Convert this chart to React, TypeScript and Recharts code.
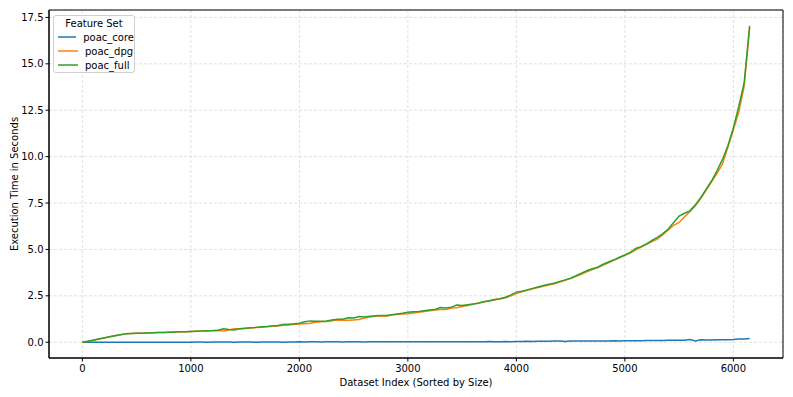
import React from 'react';
import { LineChart, Line, XAxis, YAxis, CartesianGrid, ReferenceArea } from 'recharts';

// dataset index (sorted by size), sampled every 50
const indices = [
  0, 50, 100, 150, 200, 250, 300, 350, 400, 450, 500, 550, 600, 650, 700, 750, 800, 850, 900, 950,
  1000, 1050, 1100, 1150, 1200, 1250, 1300, 1350, 1400, 1450, 1500, 1550, 1600, 1650, 1700, 1750, 1800, 1850, 1900, 1950,
  2000, 2050, 2100, 2150, 2200, 2250, 2300, 2350, 2400, 2450, 2500, 2550, 2600, 2650, 2700, 2750, 2800, 2850, 2900, 2950,
  3000, 3050, 3100, 3150, 3200, 3250, 3300, 3350, 3400, 3450, 3500, 3550, 3600, 3650, 3700, 3750, 3800, 3850, 3900, 3950,
  4000, 4050, 4100, 4150, 4200, 4250, 4300, 4350, 4400, 4450, 4500, 4550, 4600, 4650, 4700, 4750, 4800, 4850, 4900, 4950,
  5000, 5050, 5100, 5150, 5200, 5250, 5300, 5350, 5400, 5450, 5500, 5550, 5600, 5650, 5700, 5750, 5800, 5850, 5900, 5950,
  6000, 6050, 6100, 6150,
];

const poacCore = [
  0.00, 0.00, 0.00, 0.00, 0.00, 0.00, 0.00, 0.00, 0.00, 0.00, 0.00, 0.00, 0.00, 0.00, 0.00, 0.00, 0.00, 0.00, 0.00, 0.00,
  0.00, 0.01, 0.01, 0.00, 0.01, 0.01, 0.01, 0.01, 0.00, 0.01, 0.01, 0.01, 0.00, 0.01, 0.01, 0.01, 0.01, 0.00, 0.01, 0.01,
  0.02, 0.01, 0.02, 0.02, 0.01, 0.02, 0.02, 0.02, 0.01, 0.02, 0.03, 0.02, 0.01, 0.02, 0.02, 0.03, 0.02, 0.02, 0.03, 0.02,
  0.02, 0.03, 0.02, 0.02, 0.03, 0.03, 0.02, 0.02, 0.03, 0.03, 0.02, 0.03, 0.03, 0.03, 0.03, 0.04, 0.03, 0.03, 0.04, 0.03,
  0.04, 0.04, 0.05, 0.04, 0.05, 0.05, 0.05, 0.06, 0.06, 0.04, 0.06, 0.06, 0.06, 0.07, 0.06, 0.07, 0.07, 0.07, 0.08, 0.07,
  0.08, 0.08, 0.08, 0.08, 0.09, 0.09, 0.09, 0.09, 0.10, 0.10, 0.11, 0.11, 0.15, 0.07, 0.13, 0.12, 0.12, 0.13, 0.14, 0.14,
  0.15, 0.17, 0.18, 0.20,
];

const poacDpg = [
  0.00, 0.05, 0.11, 0.17, 0.23, 0.29, 0.35, 0.40, 0.45, 0.47, 0.48, 0.49, 0.50, 0.51, 0.52, 0.53, 0.54, 0.55, 0.56, 0.57,
  0.58, 0.59, 0.60, 0.61, 0.62, 0.63, 0.60, 0.66, 0.73, 0.72, 0.74, 0.77, 0.79, 0.81, 0.83, 0.86, 0.88, 0.91, 0.93, 0.96,
  0.98, 1.00, 1.02, 1.08, 1.10, 1.12, 1.16, 1.20, 1.18, 1.18, 1.20, 1.22, 1.30, 1.36, 1.40, 1.42, 1.40, 1.46, 1.50, 1.52,
  1.54, 1.58, 1.62, 1.66, 1.70, 1.74, 1.76, 1.76, 1.84, 1.86, 1.92, 1.98, 2.04, 2.12, 2.18, 2.22, 2.28, 2.34, 2.40, 2.50,
  2.62, 2.72, 2.80, 2.88, 2.95, 3.02, 3.08, 3.15, 3.24, 3.34, 3.44, 3.55, 3.66, 3.80, 3.92, 4.02, 4.16, 4.28, 4.42, 4.55,
  4.68, 4.80, 4.98, 5.12, 5.28, 5.42, 5.55, 5.80, 6.05, 6.30, 6.45, 6.75, 7.05, 7.35, 7.75, 8.20, 8.65, 9.10, 9.60, 10.50,
  11.45, 12.40, 13.80, 16.95,
];

const poacFull = [
  0.00, 0.05, 0.11, 0.17, 0.23, 0.29, 0.35, 0.40, 0.46, 0.47, 0.48, 0.49, 0.50, 0.51, 0.52, 0.53, 0.54, 0.55, 0.56, 0.57,
  0.58, 0.59, 0.60, 0.62, 0.63, 0.65, 0.72, 0.68, 0.66, 0.72, 0.75, 0.78, 0.80, 0.83, 0.85, 0.88, 0.90, 0.95, 0.97, 0.99,
  1.02, 1.10, 1.15, 1.13, 1.13, 1.15, 1.20, 1.24, 1.24, 1.32, 1.30, 1.38, 1.36, 1.40, 1.43, 1.44, 1.44, 1.48, 1.52, 1.56,
  1.62, 1.64, 1.66, 1.70, 1.73, 1.76, 1.87, 1.85, 1.88, 2.00, 1.98, 2.02, 2.06, 2.10, 2.18, 2.24, 2.30, 2.34, 2.42, 2.55,
  2.70, 2.75, 2.82, 2.90, 2.98, 3.06, 3.13, 3.18, 3.28, 3.36, 3.45, 3.58, 3.72, 3.85, 3.96, 4.04, 4.20, 4.32, 4.44, 4.58,
  4.70, 4.84, 5.05, 5.15, 5.30, 5.48, 5.65, 5.85, 6.10, 6.45, 6.80, 6.95, 7.08, 7.40, 7.80, 8.25, 8.70, 9.25, 9.85, 10.60,
  11.55, 12.70, 14.00, 17.05,
];

const xTicks = [0, 1000, 2000, 3000, 4000, 5000, 6000];
const yTicks = [0, 2.5, 5, 7.5, 10, 12.5, 15, 17.5];
const xDomain = [-307.5, 6457.5];
const yDomain = [-0.85, 17.9];

const seriesNames = ['poac_core', 'poac_dpg', 'poac_full'];
const seriesColors = ['#1f77b4', '#ff7f0e', '#2ca02c'];

const data = indices.map((idx, i) => ({
  idx,
  poac_core: poacCore[i],
  poac_dpg: poacDpg[i],
  poac_full: poacFull[i],
}));

const FONT = '"DejaVu Sans", sans-serif';

const LegendBox = () => (
  <div
    style={{
      position: 'absolute',
      left: 53,
      top: 15,
      width: 80,
      height: 56,
      border: '1px solid #d0d0d0',
      borderRadius: 3,
      background: 'rgba(255,255,255,0.85)',
      fontFamily: FONT,
      fontSize: 10,
      color: '#000',
      whiteSpace: 'nowrap',
    }}
  >
    <div style={{ textAlign: 'center', lineHeight: '12px', marginTop: 2 }}>Feature Set</div>
    {seriesNames.map((name, i) => (
      <div key={name} style={{ display: 'flex', alignItems: 'center', height: 14, marginLeft: 4 }}>
        <svg width={20} height={4} style={{ marginRight: 7 }}>
          <line x1={0} y1={2} x2={20} y2={2} stroke={seriesColors[i]} strokeWidth={1.5} />
        </svg>
        <span>{name}</span>
      </div>
    ))}
  </div>
);

const YLabel = (props: any) => {
  const vb = props.viewBox;
  const cx = 14;
  const cy = vb.y + vb.height / 2;
  return (
    <text
      x={cx}
      y={cy}
      transform={`rotate(-90, ${cx}, ${cy})`}
      textAnchor="middle"
      dominantBaseline="central"
      fontSize={10}
      fontFamily={FONT}
      fill="#000"
    >
      Execution Time in Seconds
    </text>
  );
};

export default function App() {
  return (
    <div style={{ position: 'absolute', left: 0, top: 0, width: 793, height: 397, background: '#fff' }}>
      <LineChart
        width={793}
        height={397}
        data={data}
        margin={{ top: 10, right: 10, bottom: 0, left: 0 }}
      >
        <CartesianGrid stroke="#d8d8d8" strokeDasharray="3 2" strokeWidth={0.8} />
        <XAxis
          dataKey="idx"
          type="number"
          domain={xDomain}
          ticks={xTicks}
          allowDataOverflow
          height={39}
          tick={{ fontSize: 10, fontFamily: FONT, fill: '#000' }}
          tickSize={3.5}
          tickMargin={3}
          axisLine={{ stroke: '#000', strokeWidth: 1 }}
          tickLine={{ stroke: '#000' }}
          label={{
            value: 'Dataset Index (Sorted by Size)',
            position: 'insideBottom',
            offset: 11,
            style: { fontSize: 10, fontFamily: FONT, fill: '#000' },
          }}
        />
        <YAxis
          type="number"
          domain={yDomain}
          ticks={yTicks}
          allowDataOverflow
          width={49}
          tickFormatter={(v: number) => v.toFixed(1)}
          tick={{ fontSize: 10, fontFamily: FONT, fill: '#000' }}
          tickSize={3.5}
          tickMargin={2}
          axisLine={{ stroke: '#000', strokeWidth: 1 }}
          tickLine={{ stroke: '#000' }}
          label={<YLabel />}
        />
        {/* frame for the top and right spines */}
        <ReferenceArea
          x1={xDomain[0]}
          x2={xDomain[1]}
          y1={yDomain[0]}
          y2={yDomain[1]}
          fill="none"
          stroke="#000"
          strokeWidth={1}
          ifOverflow="extendDomain"
        />
        {seriesNames.map((name, i) => (
          <Line
            key={name}
            type="linear"
            dataKey={name}
            stroke={seriesColors[i]}
            strokeWidth={1.5}
            dot={false}
            activeDot={false}
            isAnimationActive={false}
          />
        ))}
      </LineChart>
      <LegendBox />
    </div>
  );
}
